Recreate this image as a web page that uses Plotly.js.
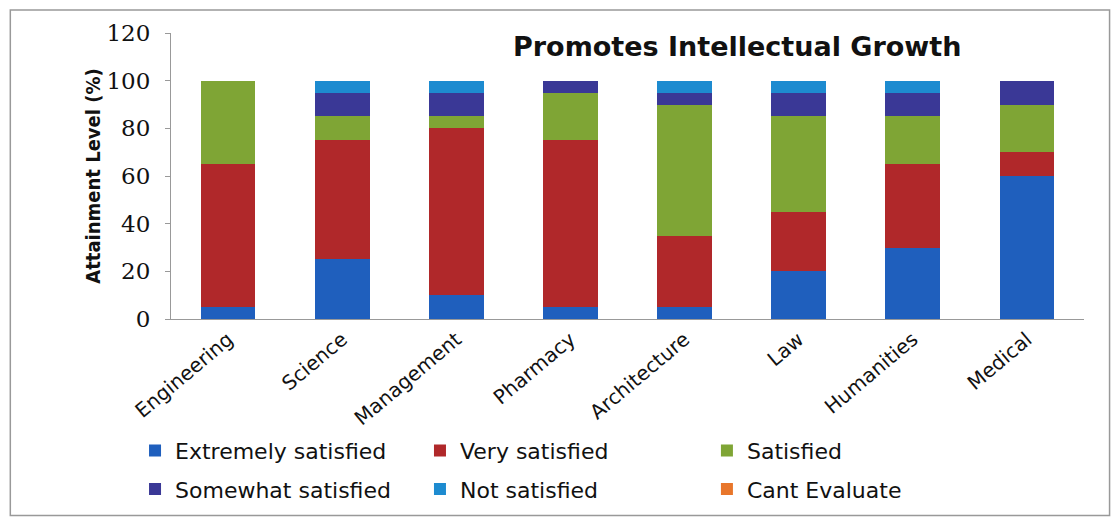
<!DOCTYPE html>
<html>
<head>
<meta charset="utf-8">
<script src="https://cdn.plot.ly/plotly-3.0.1.min.js"></script>
<style>html,body{margin:0;padding:0;background:#fff;}#chart{width:1112px;height:520px;}</style>
</head>
<body>
<div id="chart"></div>
<script>
const categories = ["Engineering","Science","Management","Pharmacy","Architecture","Law","Humanities","Medical"];
const extremelySatisfied = [5, 25, 10, 5, 5, 20, 30, 60];
const verySatisfied      = [60, 50, 70, 70, 30, 25, 35, 10];
const satisfied          = [35, 10, 5, 20, 55, 40, 20, 20];
const somewhatSatisfied  = [0, 10, 10, 5, 5, 10, 10, 10];
const notSatisfied       = [0, 5, 5, 0, 5, 5, 5, 0];
const cantEvaluate       = [0, 0, 0, 0, 0, 0, 0, 0];
const yTicks = [0, 20, 40, 60, 80, 100, 120];
const chartTitle = "Promotes Intellectual Growth";
const yTitle = "Attainment Level (%)";

const series = [
  {name:"Extremely satisfied", y:extremelySatisfied, color:"#1f5fbd", legend:"legend"},
  {name:"Very satisfied", y:verySatisfied, color:"#b0282a", legend:"legend2"},
  {name:"Satisfied", y:satisfied, color:"#7fa535", legend:"legend3"},
  {name:"Somewhat satisfied", y:somewhatSatisfied, color:"#3a3896", legend:"legend"},
  {name:"Not satisfied", y:notSatisfied, color:"#1d8bd0", legend:"legend2"},
  {name:"Cant Evaluate", y:cantEvaluate, color:"#e8762b", legend:"legend3"}
];

const traces = series.map((s, i) => ({
  type:"bar", name:s.name, x:categories, y:s.y,
  marker:{color:s.color, line:{width:0}},
  legend:s.legend, legendgroup:"g"+i, showlegend:true
}));

const legFont = {family:"DejaVu Sans, sans-serif", size:22, color:"#111"};
const legBase = {orientation:"v", traceorder:"grouped", font:legFont, bgcolor:"rgba(0,0,0,0)",
  borderwidth:0, tracegroupgap:7, yanchor:"top", xanchor:"left", y:-0.387};

const layout = {
  width:1112, height:520,
  paper_bgcolor:"#fff", plot_bgcolor:"#fff",
  margin:{l:171, r:28, t:33, b:201, autoexpand:false},
  barmode:"stack", bargap:0.52,
  showlegend:true,
  xaxis:{type:"category", showline:true, linecolor:"#999", linewidth:1, showgrid:false, automargin:false,
    ticks:"", tickangle:-40, tickfont:{family:"DejaVu Sans, sans-serif", size:20, color:"#111"}},
  yaxis:{range:[0,120], tickvals:yTicks, ticktext:yTicks.map(String), showgrid:false, zeroline:false, automargin:false,
    showline:true, linecolor:"#999", linewidth:1, ticks:"outside", ticklen:5, tickcolor:"#999",
    ticklabelstandoff:10,
    tickfont:{family:"DejaVu Serif, serif", size:23, color:"#111"},
    title:{text:yTitle, standoff:0, font:{family:"DejaVu Sans Condensed, Liberation Sans, sans-serif", size:20, color:"#111", weight:"bold"}}},
  legend:Object.assign({}, legBase, {x:-0.0394}),
  legend2:Object.assign({}, legBase, {x:0.2727}),
  legend3:Object.assign({}, legBase, {x:0.587}),
  annotations:[{text:"<b>"+chartTitle+"</b>", xref:"paper", yref:"paper", x:0.62, y:1.015, yanchor:"top", xanchor:"center",
    showarrow:false, font:{family:"DejaVu Sans, sans-serif", size:27, color:"#111"}}],
  shapes:[{type:"rect", xref:"paper", yref:"paper", x0:-0.176, x1:1.028, y0:-0.687, y1:1.08,
    line:{color:"#999", width:1.5}, fillcolor:"rgba(0,0,0,0)", layer:"below"}]
};

Plotly.newPlot("chart", traces, layout, {displayModeBar:false, staticPlot:true});
</script>
</body>
</html>
